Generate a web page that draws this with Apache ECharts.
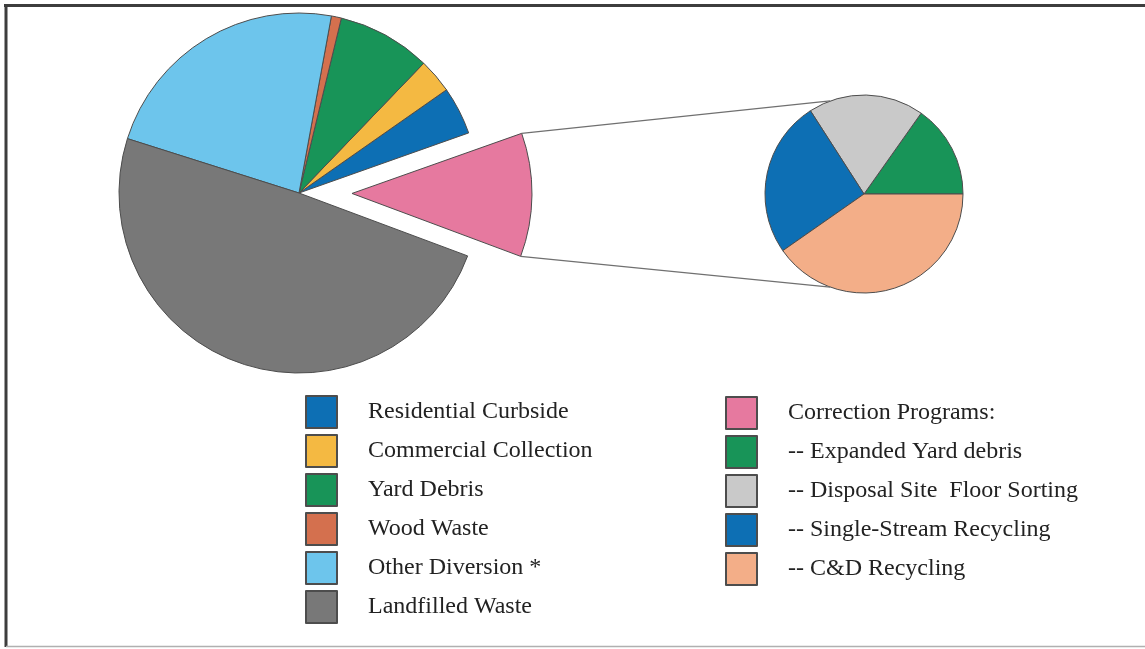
<!DOCTYPE html>
<html>
<head>
<meta charset="utf-8">
<script src="https://cdn.jsdelivr.net/npm/echarts@6/dist/echarts.min.js"></script>
<style>
html,body{margin:0;padding:0;background:#ffffff;}
#chart{width:1145px;height:649px;}
</style>
</head>
<body>
<div id="chart"></div>
<script>
// ---- data ----
const mainCategories = ['Residential Curbside', 'Commercial Collection', 'Yard Debris', 'Wood Waste', 'Other Diversion *', 'Landfilled Waste', 'Correction Programs:'];
const mainValues = [4.3, 3.1, 8.4, 0.9, 23.0, 49.2, 11.1];
const mainColors = ['#0d6fb4', '#f4b942', '#189458', '#d4704e', '#6dc5ec', '#787878', '#e6799f'];

const subCategories = ['-- Expanded Yard debris', '-- Disposal Site  Floor Sorting', '-- Single-Stream Recycling', '-- C&D Recycling'];
const subValues = [15.2, 18.9, 25.6, 40.3];
const subColors = ['#189458', '#c9c9c9', '#0d6fb4', '#f3ae88'];

// ---- layout ----
const MAIN_CENTER = [299, 193];
const MAIN_R = 180;
const MAIN_START = 19.5;
const EXPLODE = 53;
const SUB_CENTER = [864, 194];
const SUB_R = 99;
const LINK_ANGLE = 110;
const FONT = '"Liberation Serif", "Times New Roman", serif';

function polar(c, r, deg) {
  const a = deg * Math.PI / 180;
  return [c[0] + r * Math.cos(a), c[1] - r * Math.sin(a)];
}

// geometry of the exploded slice (last item, counter-clockwise order)
const total = mainValues.reduce((a, b) => a + b, 0);
const before = mainValues.slice(0, mainValues.length - 1).reduce((a, b) => a + b, 0);
const pinkStart = MAIN_START + 360 * before / total;
const pinkEnd = MAIN_START + 360;
const pinkMid = (pinkStart + pinkEnd) / 2;
const shifted = polar(MAIN_CENTER, EXPLODE, pinkMid);
const pinkTop = polar(shifted, MAIN_R, pinkEnd);
const pinkBottom = polar(shifted, MAIN_R, pinkStart);
const subTop = polar(SUB_CENTER, SUB_R, LINK_ANGLE);
const subBottom = polar(SUB_CENTER, SUB_R, -LINK_ANGLE);

const mainData = mainCategories.map((n, i) => ({
  name: n,
  value: mainValues[i],
  selected: i === mainCategories.length - 1,
  itemStyle: { color: mainColors[i] }
}));
const subData = subCategories.map((n, i) => ({
  name: n,
  value: subValues[i],
  itemStyle: { color: subColors[i] }
}));

const legendText = {
  fontFamily: FONT,
  fontSize: 24,
  color: '#222222',
  padding: [0, 0, 0, 26]
};

const chart = echarts.init(document.getElementById('chart'), null, { renderer: 'canvas' });
chart.setOption({
  backgroundColor: '#ffffff',
  animation: false,
  legend: [
    {
      orient: 'vertical',
      left: 305,
      top: 395,
      padding: 0,
      itemWidth: 31,
      itemHeight: 32,
      itemGap: 5,
      icon: 'rect',
      selectedMode: false,
      textStyle: legendText,
      data: mainCategories.slice(0, 6)
    },
    {
      orient: 'vertical',
      left: 725,
      top: 396,
      padding: 0,
      itemWidth: 31,
      itemHeight: 32,
      itemGap: 5,
      icon: 'rect',
      selectedMode: false,
      textStyle: legendText,
      data: [mainCategories[6]].concat(subCategories)
    }
  ],
  series: [
    {
      type: 'pie',
      center: MAIN_CENTER,
      radius: MAIN_R,
      startAngle: MAIN_START,
      clockwise: false,
      selectedMode: 'single',
      selectedOffset: EXPLODE,
      label: { show: false },
      labelLine: { show: false },
      emphasis: { disabled: true },
      silent: true,
      itemStyle: { borderColor: '#4d4d4d', borderWidth: 1 },
      data: mainData
    },
    {
      type: 'pie',
      center: SUB_CENTER,
      radius: SUB_R,
      startAngle: 0,
      clockwise: false,
      label: { show: false },
      labelLine: { show: false },
      emphasis: { disabled: true },
      silent: true,
      itemStyle: { borderColor: '#4d4d4d', borderWidth: 1 },
      data: subData
    }
  ],
  graphic: [
    { type: 'line', shape: { x1: pinkTop[0], y1: pinkTop[1], x2: subTop[0], y2: subTop[1] }, style: { stroke: '#707070', lineWidth: 1.3 }, z: 10 },
    { type: 'line', shape: { x1: pinkBottom[0], y1: pinkBottom[1], x2: subBottom[0], y2: subBottom[1] }, style: { stroke: '#707070', lineWidth: 1.3 }, z: 10 },
    { type: 'line', shape: { x1: 4, y1: 5.5, x2: 1145, y2: 5.5 }, style: { stroke: '#3d3d3d', lineWidth: 3 }, z: 10 },
    { type: 'line', shape: { x1: 6, y1: 4, x2: 6, y2: 647 }, style: { stroke: '#3d3d3d', lineWidth: 3 }, z: 10 },
    { type: 'line', shape: { x1: 6, y1: 646.5, x2: 1145, y2: 646.5 }, style: { stroke: '#b0b0b0', lineWidth: 1.5 }, z: 10 }
  ]
});
</script>
</body>
</html>
